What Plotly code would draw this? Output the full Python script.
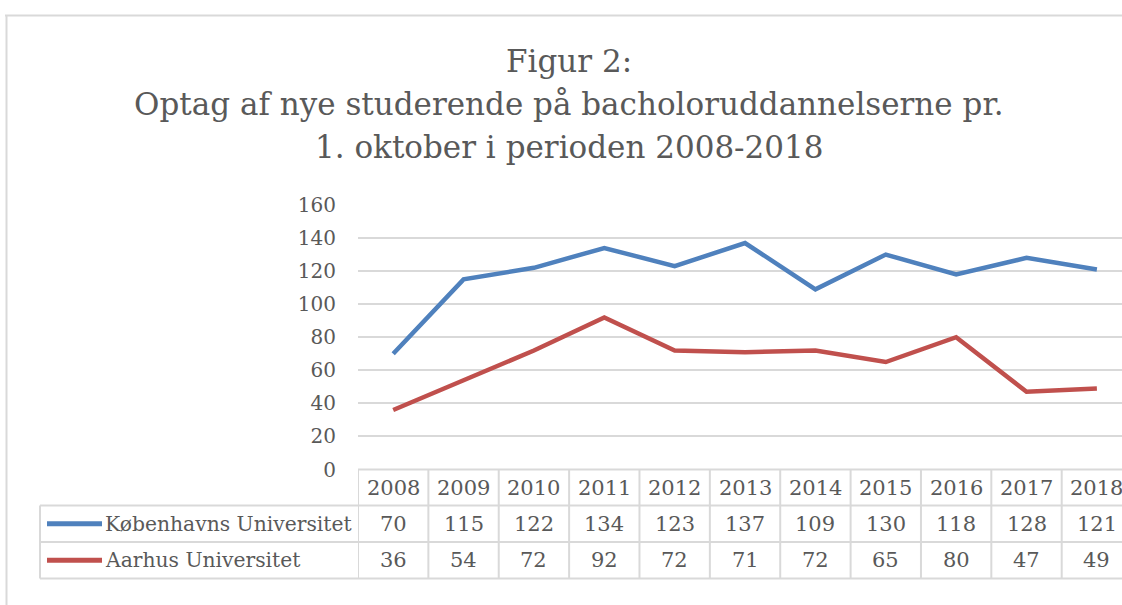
import plotly.graph_objects as go

# ---------------- data ----------------
years = ["2008", "2009", "2010", "2011", "2012", "2013", "2014", "2015", "2016", "2017", "2018"]
series_names = ["Københavns Universitet", "Aarhus Universitet"]
ku_values = [70, 115, 122, 134, 123, 137, 109, 130, 118, 128, 121]
au_values = [36, 54, 72, 92, 72, 71, 72, 65, 80, 47, 49]
y_ticks = [0, 20, 40, 60, 80, 100, 120, 140, 160]
title_lines = ["Figur 2:", "Optag af nye studerende på bacholoruddannelserne pr.", "1. oktober i perioden 2008-2018"]

series_values = [ku_values, au_values]
colors = ["#4F81BD", "#C0504D"]

W, H = 1122, 605
TXT = "#595959"
GRID = "#D9D9D9"
FONT = "DejaVu Serif"

def px_x(x):
    return x / W

def px_y(y):
    return (H - y) / H

x_pos = list(range(len(years)))

plot_left = 358
col_w = 70.37
x_range = [-0.5, -0.5 + (W - plot_left) / col_w]
y_top_px, y_bot_px = 205, 469.5

fig = go.Figure()
for name, vals, col in zip(series_names, series_values, colors):
    fig.add_trace(go.Scatter(
        x=x_pos, y=vals, mode="lines", name=name,
        line=dict(color=col, width=4.5), showlegend=False,
        hoverinfo="x+y",
    ))

shapes = []
annotations = []

# outer chart border (top and left)
shapes.append(dict(type="line", xref="paper", yref="paper",
                   x0=px_x(5), x1=1.0, y0=px_y(15.5), y1=px_y(15.5),
                   line=dict(color=GRID, width=2)))
shapes.append(dict(type="line", xref="paper", yref="paper",
                   x0=px_x(6.5), x1=px_x(6.5), y0=px_y(15), y1=0,
                   line=dict(color=GRID, width=2)))

# data table
row_lines = [469.5, 505.5, 542, 578.5]
tbl_left = 40
shapes.append(dict(type="line", xref="paper", yref="paper",
                   x0=px_x(plot_left), x1=1.0, y0=px_y(row_lines[0]), y1=px_y(row_lines[0]),
                   line=dict(color=GRID, width=2)))
for ry in row_lines[1:]:
    shapes.append(dict(type="line", xref="paper", yref="paper",
                       x0=px_x(tbl_left), x1=1.0, y0=px_y(ry), y1=px_y(ry),
                       line=dict(color=GRID, width=2)))
for k in range(len(years) + 1):
    shapes.append(dict(type="line", xref="x", yref="paper",
                       x0=k - 0.5, x1=k - 0.5, y0=px_y(row_lines[0]), y1=px_y(row_lines[-1]),
                       line=dict(color=GRID, width=2)))
shapes.append(dict(type="line", xref="paper", yref="paper",
                   x0=px_x(tbl_left), x1=px_x(tbl_left), y0=px_y(row_lines[1]), y1=px_y(row_lines[-1]),
                   line=dict(color=GRID, width=2)))

NUM_SIZE = 21
LBL_SIZE = 20.3
hdr_c = (row_lines[0] + row_lines[1]) / 2
for k, yr in enumerate(years):
    annotations.append(dict(x=k, xref="x", y=px_y(hdr_c), yref="paper", text=yr,
                            showarrow=False, xanchor="center", yanchor="middle",
                            font=dict(family=FONT, size=NUM_SIZE, color=TXT)))

for r, (name, vals, col) in enumerate(zip(series_names, series_values, colors)):
    c = (row_lines[r + 1] + row_lines[r + 2]) / 2
    shapes.append(dict(type="line", xref="paper", yref="paper",
                       x0=px_x(47), x1=px_x(102), y0=px_y(c), y1=px_y(c),
                       line=dict(color=col, width=5)))
    annotations.append(dict(x=px_x(103), xref="paper", y=px_y(c), yref="paper", text=name,
                            showarrow=False, xanchor="left", yanchor="middle",
                            font=dict(family=FONT, size=LBL_SIZE, color=TXT)))
    for k, v in enumerate(vals):
        annotations.append(dict(x=k, xref="x", y=px_y(c), yref="paper", text=str(v),
                                showarrow=False, xanchor="center", yanchor="middle",
                                font=dict(family=FONT, size=NUM_SIZE, color=TXT)))

title_y = [61, 104, 147]
for t, ty in zip(title_lines, title_y):
    annotations.append(dict(x=px_x(569), xref="paper", y=px_y(ty), yref="paper", text=t,
                            showarrow=False, xanchor="center", yanchor="middle",
                            font=dict(family=FONT, size=31, color=TXT)))

fig.update_layout(
    width=W, height=H,
    margin=dict(l=0, r=0, t=0, b=0, autoexpand=False),
    paper_bgcolor="white", plot_bgcolor="white",
    shapes=shapes, annotations=annotations,
    xaxis=dict(domain=[px_x(plot_left), 1.0], range=x_range, showgrid=False, automargin=False,
               showticklabels=False, zeroline=False, showline=False, fixedrange=True),
    yaxis=dict(domain=[px_y(y_bot_px), px_y(y_top_px)], range=[0, 160], automargin=False,
               tickvals=y_ticks, ticktext=[str(v) for v in y_ticks],
               showgrid=True, gridcolor=GRID, gridwidth=2, zeroline=False, showline=False,
               ticks="", ticklabelstandoff=21,
               tickfont=dict(family=FONT, size=20, color=TXT), fixedrange=True),
)

fig.write_html("out.html", config={"displayModeBar": False},
               post_script="document.body.style.margin='0';document.body.style.overflow='hidden';")
